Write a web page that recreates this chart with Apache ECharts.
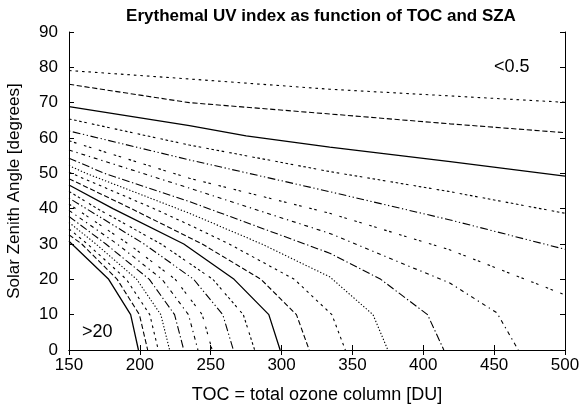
<!DOCTYPE html>
<html>
<head>
<meta charset="utf-8">
<script src="https://cdn.jsdelivr.net/npm/echarts@6.0.0/dist/echarts.min.js"></script>
<style>
  html, body { margin: 0; padding: 0; background: #fff; }
  #chart { width: 579px; height: 412px; }
</style>
</head>
<body>
<div id="chart"></div>
<script>
// contour levels of the UV index, highest first (gnuplot order)
const levels = [20, 19, 18, 17, 16, 15, 14, 13, 12, 11, 10, 9, 8, 7, 6, 5, 4, 3, 2, 1, 0.5];

// [TOC, SZA] points
const uv20 = [[150, 30.8], [178, 20], [193.5, 10], [199, 0]];
const uv19 = [[150, 32.6], [159, 30], [184, 20], [199.7, 10], [205.5, 0]];
const uv18 = [[150, 34.3], [163, 30], [190.5, 20], [207, 10], [213, 0]];
const uv17 = [[150, 36.1], [169, 30], [197.8, 20], [214.8, 10], [221, 0]];
const uv16 = [[150, 37.8], [176, 30], [206.7, 20], [224.5, 10], [231, 0]];
const uv15 = [[150, 39.5], [184, 30], [215.7, 20], [234.3, 10], [241, 0]];
const uv14 = [[150, 41.3], [192, 30], [225, 20], [244, 10], [251, 0]];
const uv13 = [[150, 43], [203, 30], [238, 20], [258.5, 10], [266, 0]];
const uv12 = [[150, 44.9], [170, 40], [215, 30], [251.5, 20], [273, 10], [281, 0]];
const uv11 = [[150, 46.7], [181, 40], [231, 30], [266.5, 20], [291, 10], [299, 0]];
const uv10 = [[150, 48.5], [194, 40], [244, 30], [285.5, 20], [310.5, 10], [319.5, 0]];
const uv9 = [[150, 50.3], [210, 40], [235, 35.4], [263, 30], [309, 20], [335.5, 10], [345, 0]];
const uv8 = [[150, 52.2], [162, 50], [235, 38.7], [286, 30], [334, 20.7], [364.5, 10], [375, 0]];
const uv7 = [[150, 54.3], [175, 50], [235, 42], [334, 27.4], [370, 20], [403, 10], [414.5, 0]];
const uv6 = [[150, 56.6], [235, 45.8], [334, 33], [419, 18.9], [452, 10.5], [467, 0]];
const uv5 = [[150, 59.2], [235, 48.6], [334, 38.7], [419, 28.3], [500, 15.6]];
const uv4 = [[150, 62], [235, 53.8], [334, 44.8], [419, 36.8], [500, 28.5]];
const uv3 = [[150, 65.4], [235, 58], [334, 50.5], [419, 44.8], [500, 38.7]];
const uv2 = [[150, 68.9], [235, 63.5], [275, 60.6], [334, 57.4], [419, 53.3], [500, 49.2]];
const uv1 = [[150, 75.2], [235, 70], [334, 66.8], [419, 64], [500, 61.5]];
const uv05 = [[150, 79.1], [235, 76.7], [334, 73.8], [500, 70.1]];

const contours = [uv20, uv19, uv18, uv17, uv16, uv15, uv14, uv13, uv12, uv11,
  uv10, uv9, uv8, uv7, uv6, uv5, uv4, uv3, uv2, uv1, uv05];

const tocTicks = [150, 200, 250, 300, 350, 400, 450, 500];
const szaTicks = [0, 10, 20, 30, 40, 50, 60, 70, 80, 90];

// gnuplot postscript dash patterns, cycled per level
const u = 1.3;
const dashCycle = [
  'solid',
  [4 * u, 2 * u],
  [2 * u, 3 * u],
  [1 * u, 1.5 * u],
  [6 * u, 2 * u, 1 * u, 2 * u],
  [3 * u, 3 * u, 1 * u, 3 * u],
  [2 * u, 2 * u, 2 * u, 6 * u],
  [1 * u, 2 * u, 6 * u, 2 * u, 1 * u, 2 * u],
  [2 * u, 2 * u, 2 * u, 2 * u, 2 * u, 2 * u, 2 * u, 4 * u]
];

const font = 'Liberation Sans, Arial, Helvetica, sans-serif';

const chart = echarts.init(document.getElementById('chart'), null, { renderer: 'canvas' });

const axisLine = { show: true, lineStyle: { color: '#000', width: 1 } };
const tick = { show: true, inside: true, length: 5, lineStyle: { color: '#000' } };

const series = contours.map((pts, i) => ({
  name: 'UV ' + levels[i],
  type: 'line',
  data: pts,
  symbol: 'none',
  silent: true,
  animation: false,
  lineStyle: {
    color: '#000',
    width: dashCycle[i % 9] === 'solid' ? 1.3 : 1.1,
    type: dashCycle[i % 9]
  },
  z: 2
}));

chart.setOption({
  animation: false,
  backgroundColor: '#fff',
  title: {
    text: 'Erythemal UV index as function of TOC and SZA',
    left: 316,
    top: 3,
    textAlign: 'center',
    textStyle: { fontFamily: font, fontSize: 17, fontWeight: 'bold', color: '#000' }
  },
  grid: { left: 69, right: 14, top: 32, bottom: 62, outerBoundsMode: 'none' },
  xAxis: [{
    type: 'value',
    min: 150, max: 500, interval: 50,
    name: 'TOC = total ozone column [DU]',
    nameLocation: 'middle',
    nameGap: 36,
    nameTextStyle: { fontFamily: font, fontSize: 18, color: '#000' },
    axisLine: axisLine,
    axisTick: tick,
    axisLabel: {
      fontFamily: font, fontSize: 17, color: '#000', margin: 7,
      formatter: v => tocTicks.includes(v) ? String(v) : ''
    },
    splitLine: { show: false }
  }, {
    type: 'value', position: 'top',
    min: 150, max: 500, interval: 50,
    axisLine: axisLine, axisTick: tick,
    axisLabel: { show: false }, splitLine: { show: false }
  }],
  yAxis: [{
    type: 'value',
    min: 0, max: 90, interval: 10,
    name: 'Solar Zenith Angle [degrees]',
    nameLocation: 'middle',
    nameGap: 46,
    nameTextStyle: { fontFamily: font, fontSize: 17, color: '#000' },
    axisLine: axisLine,
    axisTick: tick,
    axisLabel: {
      fontFamily: font, fontSize: 17, color: '#000', margin: 11,
      formatter: v => szaTicks.includes(v) ? String(v) : ''
    },
    splitLine: { show: false }
  }, {
    type: 'value', position: 'right',
    min: 0, max: 90, interval: 10,
    axisLine: axisLine, axisTick: tick,
    axisLabel: { show: false }, splitLine: { show: false }
  }],
  graphic: [{
    type: 'text', left: 494, top: 58,
    style: { text: '<0.5', fontFamily: font, fontSize: 18, fill: '#000' }
  }, {
    type: 'text', left: 82, top: 323,
    style: { text: '>20', fontFamily: font, fontSize: 18, fill: '#000' }
  }],
  series: series
});
</script>
</body>
</html>
